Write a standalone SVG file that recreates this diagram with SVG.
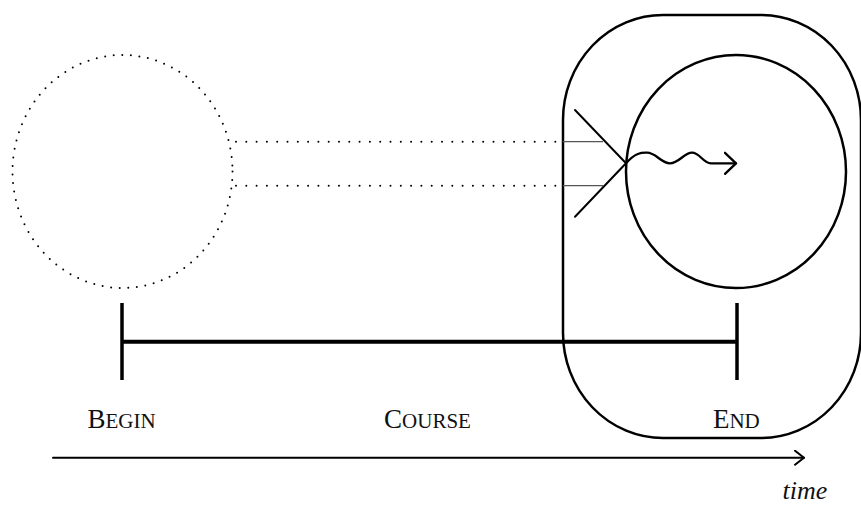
<svg xmlns="http://www.w3.org/2000/svg" width="861" height="508" viewBox="0 0 861 508">
  <style>
    .label { font-family: "Liberation Serif", "DejaVu Serif", serif; fill: #111; text-anchor: middle; }
    .dots { fill: none; stroke: #000; stroke-width: 2; stroke-linecap: round; }
    .solid { fill: none; stroke: #000; stroke-linecap: round; stroke-linejoin: round; }
  </style>
  <defs>
    <marker id="open-arrow" viewBox="0 0 12 16" refX="10" refY="8" markerWidth="12" markerHeight="16" markerUnits="userSpaceOnUse" orient="auto">
      <path d="M1 1 L10 8 L1 15" fill="none" stroke="#000" stroke-width="2" stroke-linecap="round" stroke-linejoin="round"/>
    </marker>
    <marker id="wave-arrow" viewBox="0 0 14 24" refX="12" refY="12" markerWidth="14" markerHeight="24" markerUnits="userSpaceOnUse" orient="auto">
      <path d="M1 1.5 L12 12 L1 22.5" fill="none" stroke="#000" stroke-width="2.3" stroke-linecap="round" stroke-linejoin="round"/>
    </marker>
  </defs>
  <rect width="861" height="508" fill="#fff"/>

  <!-- earlier state: dotted outline -->
  <g id="origin">
    <ellipse cx="122.5" cy="171.5" rx="110" ry="116.5" class="dots" stroke-dasharray="0 8.6"/>
  </g>

  <!-- final state: rounded frame with inner circle -->
  <g id="frame">
    <rect x="563" y="15" width="298" height="423" rx="100" ry="105" class="solid" stroke-width="2.5"/>
  </g>
  <g id="target">
    <ellipse cx="736" cy="171.5" rx="110" ry="116.5" class="solid" stroke-width="2.5"/>
  </g>

  <g id="connectors">
    <!-- projection lines from the dotted outline -->
    <line x1="236" y1="141.7" x2="557" y2="141.7" class="dots" stroke-dasharray="0 10.3"/>
    <line x1="236" y1="185.7" x2="557" y2="185.7" class="dots" stroke-dasharray="0 10.3"/>
    <line x1="563" y1="141.7" x2="603" y2="141.7" stroke="#555" stroke-width="1.3"/>
    <line x1="563" y1="185.7" x2="603" y2="185.7" stroke="#555" stroke-width="1.3"/>
    <!-- converging wedge -->
    <path d="M575 110 L626 163.3 L575 216.7" class="solid" stroke-width="2"/>
    <!-- wavy arrow -->
    <path d="M626 163.3 C636 152, 642 152.7, 647 152.7 C656 152.7, 661 163.3, 670 163.3 C679 163.3, 684 152.7, 692 152.7 C700 152.7, 703 163.3, 711 163.3 L736 163.3" class="solid" stroke-width="2.3" marker-end="url(#wave-arrow)"/>
    <!-- timeline bar with end ticks -->
    <line x1="122" y1="341.7" x2="737" y2="341.7" stroke="#000" stroke-width="4"/>
    <line x1="122" y1="303" x2="122" y2="380" stroke="#000" stroke-width="3.5"/>
    <line x1="737" y1="303" x2="737" y2="380" stroke="#000" stroke-width="3.5"/>
    <!-- time axis -->
    <line x1="53" y1="457.7" x2="804" y2="457.7" class="solid" stroke-width="2" marker-end="url(#open-arrow)"/>
  </g>

  <g id="labels">
    <text x="121.5" y="428.3" class="label" font-size="27">B<tspan font-size="21">EGIN</tspan></text>
    <text x="427.5" y="428.3" class="label" font-size="27">C<tspan font-size="21">OURSE</tspan></text>
    <text x="736.3" y="428.3" class="label" font-size="27">E<tspan font-size="21">ND</tspan></text>
    <text x="805" y="499" class="label" font-size="26" font-style="italic">time</text>
  </g>
</svg>
